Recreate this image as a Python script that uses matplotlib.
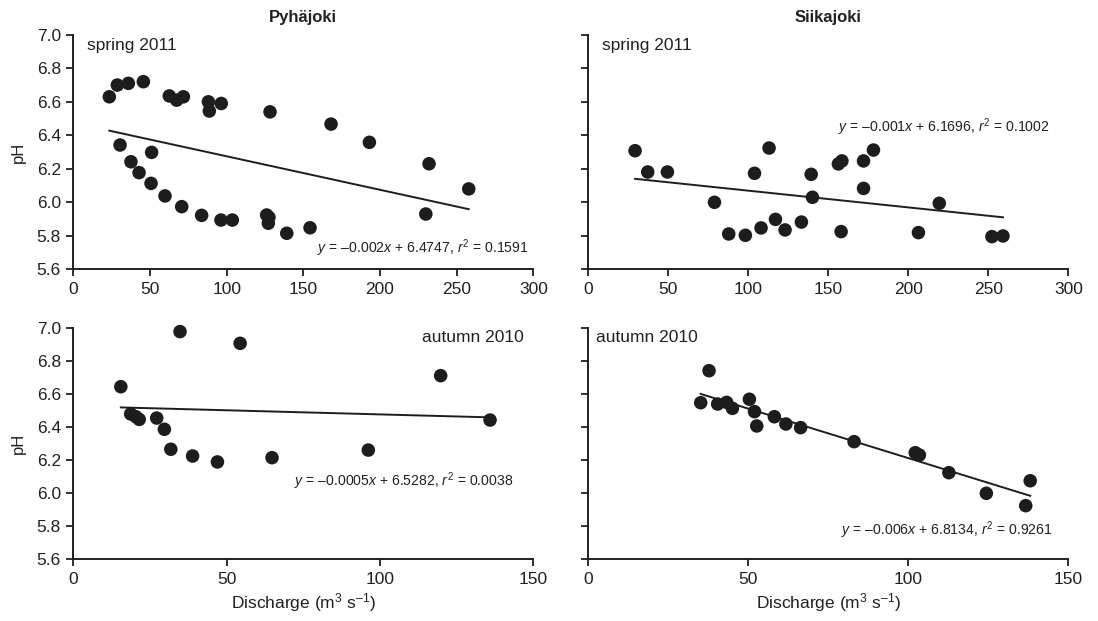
import matplotlib
matplotlib.use("Agg")
import matplotlib.pyplot as plt
import numpy as np

plt.rcParams['font.family'] = ['Liberation Sans', 'DejaVu Sans']
plt.rcParams['mathtext.fontset'] = 'custom'
plt.rcParams['mathtext.rm'] = 'Liberation Sans'
plt.rcParams['mathtext.it'] = 'Liberation Sans:italic'
plt.rcParams['mathtext.bf'] = 'Liberation Sans:bold'

# ---------------- data ----------------
rivers = ["Pyhäjoki", "Siikajoki"]
seasons = ["spring 2011", "autumn 2010"]

pyha_spring_x = [23.5, 28.7, 35.9, 45.7, 62.6, 67.4, 71.8, 88.1, 88.7, 96.5, 128.3,
                 168.1, 193.1, 232.0, 257.9, 229.9,
                 30.5, 51.1, 37.6, 42.9, 50.7, 59.8, 70.7, 83.7, 96.3, 103.7,
                 126.1, 127.6, 127.2, 139.2, 154.4]
pyha_spring_y = [6.63, 6.70, 6.71, 6.72, 6.635, 6.61, 6.63, 6.60, 6.545, 6.59, 6.54,
                 6.467, 6.358, 6.23, 6.08, 5.93,
                 6.342, 6.298, 6.242, 6.177, 6.113, 6.038, 5.974, 5.922, 5.894, 5.894,
                 5.924, 5.91, 5.875, 5.815, 5.848]

siika_spring_x = [29.4, 37.3, 49.6, 79.0, 87.9, 98.3, 104.0, 108.1, 113.1, 117.1, 123.1,
                  133.3, 139.4, 140.2, 156.4, 158.6, 158.1, 172.1, 172.1, 178.3,
                  219.4, 206.4, 252.3, 259.2]
siika_spring_y = [6.308, 6.181, 6.181, 6.00, 5.811, 5.803, 6.173, 5.847, 6.324, 5.898, 5.835,
                  5.882, 6.167, 6.03, 6.229, 6.247, 5.825, 6.247, 6.083, 6.312,
                  5.994, 5.819, 5.795, 5.799]

pyha_autumn_x = [15.5, 18.7, 20.4, 21.5, 27.2, 29.7, 31.8, 34.8, 38.9, 47.0, 54.4, 64.8,
                 119.8, 135.9, 96.2]
pyha_autumn_y = [6.646, 6.481, 6.464, 6.448, 6.456, 6.388, 6.267, 6.98, 6.226, 6.19, 6.909, 6.216,
                 6.713, 6.444, 6.262]

siika_autumn_x = [35.2, 37.8, 40.5, 43.3, 45.1, 50.4, 52.0, 52.7, 58.2, 61.8, 66.4,
                  83.1, 102.2, 103.5, 112.7, 124.4, 138.1, 136.7]
siika_autumn_y = [6.549, 6.743, 6.541, 6.551, 6.515, 6.57, 6.495, 6.408, 6.464, 6.42, 6.398,
                  6.313, 6.246, 6.232, 6.125, 6.00, 6.076, 5.925]

# regression: slope, intercept, and the printed strings
fits = {
    (0, 0): (-0.002, 6.4747, "–0.002", "6.4747", "0.1591"),
    (0, 1): (-0.001, 6.1696, "–0.001", "6.1696", "0.1002"),
    (1, 0): (-0.0005, 6.5282, "–0.0005", "6.5282", "0.0038"),
    (1, 1): (-0.006, 6.8134, "–0.006", "6.8134", "0.9261"),
}

xlims = [[300, 300], [150, 150]]
xticks = [[0, 50, 100, 150, 200, 250, 300], [0, 50, 100, 150]]
yticks = [5.6, 5.8, 6.0, 6.2, 6.4, 6.6, 6.8, 7.0]

data = {
    (0, 0): (pyha_spring_x, pyha_spring_y),
    (0, 1): (siika_spring_x, siika_spring_y),
    (1, 0): (pyha_autumn_x, pyha_autumn_y),
    (1, 1): (siika_autumn_x, siika_autumn_y),
}

# ---------------- layout ----------------
W, H = 1098, 621
fig = plt.figure(figsize=(W / 100, H / 100), dpi=100)

col_px = [(73.3, 533.3), (588.0, 1068.3)]
row_px = [(34.8, 269.3), (328.3, 559.3)]

label_pos = {  # (x, y, ha)
    (0, 0): (0.03, 0.985, 'left'),
    (0, 1): (0.03, 0.985, 'left'),
    (1, 0): (0.98, 0.993, 'right'),
    (1, 1): (0.016, 0.993, 'left'),
}
eq_pos = {
    (0, 0): (0.989, 0.068),
    (0, 1): (0.96, 0.587),
    (1, 0): (0.957, 0.319),
    (1, 1): (0.967, 0.105),
}

ink = '#1e1c1d'

for r in range(2):
    for c in range(2):
        x0, x1 = col_px[c]
        yt, yb = row_px[r]
        ax = fig.add_axes([x0 / W, 1 - yb / H, (x1 - x0) / W, (yb - yt) / H])
        xs, ys = data[(r, c)]
        ax.scatter(xs, ys, s=95, color=ink, edgecolors='none', zorder=3,
                   clip_on=False)
        slope, icpt, s_txt, i_txt, r2_txt = fits[(r, c)]
        xx = np.array([min(xs), max(xs)])
        ax.plot(xx, slope * xx + icpt, color=ink, lw=1.4, zorder=2)

        ax.set_xlim(0, xlims[r][c])
        ax.set_ylim(5.6, 7.0)
        ax.set_xticks(xticks[r])
        ax.set_yticks(yticks)
        if c == 0:
            ax.set_yticklabels([f"{v:.1f}" for v in yticks])
            ax.set_ylabel("pH", fontsize=12, labelpad=8, color='#231f20')
        else:
            ax.set_yticklabels([])
        ax.tick_params(direction='out', length=5, width=1.3, labelsize=12.5,
                       colors='#231f20', pad=4)
        for s in ['top', 'right']:
            ax.spines[s].set_visible(False)
        for s in ['left', 'bottom']:
            ax.spines[s].set_linewidth(1.4)
            ax.spines[s].set_color('#231f20')

        lx, ly, lha = label_pos[(r, c)]
        ax.text(lx, ly, seasons[r], transform=ax.transAxes, ha=lha, va='top',
                fontsize=12.5, color='#231f20')

        ex, ey = eq_pos[(r, c)]
        eq = (r"$\mathit{y}$ = " + s_txt + r"$\mathit{x}$ + " + i_txt +
              r", $\mathit{r}^{2}$ = " + r2_txt)
        ax.text(ex, ey, eq, transform=ax.transAxes, ha='right', va='baseline',
                fontsize=10.1, color='#231f20')

        if r == 0:
            ax.set_title(rivers[c], fontsize=12, fontweight='bold', pad=9,
                         color='#231f20')
        if r == 1:
            ax.set_xlabel(r"Discharge (m$^{3}$ s$^{–1}$)", fontsize=12.5,
                          labelpad=3, color='#231f20')

fig.savefig("out.png", dpi=100)
